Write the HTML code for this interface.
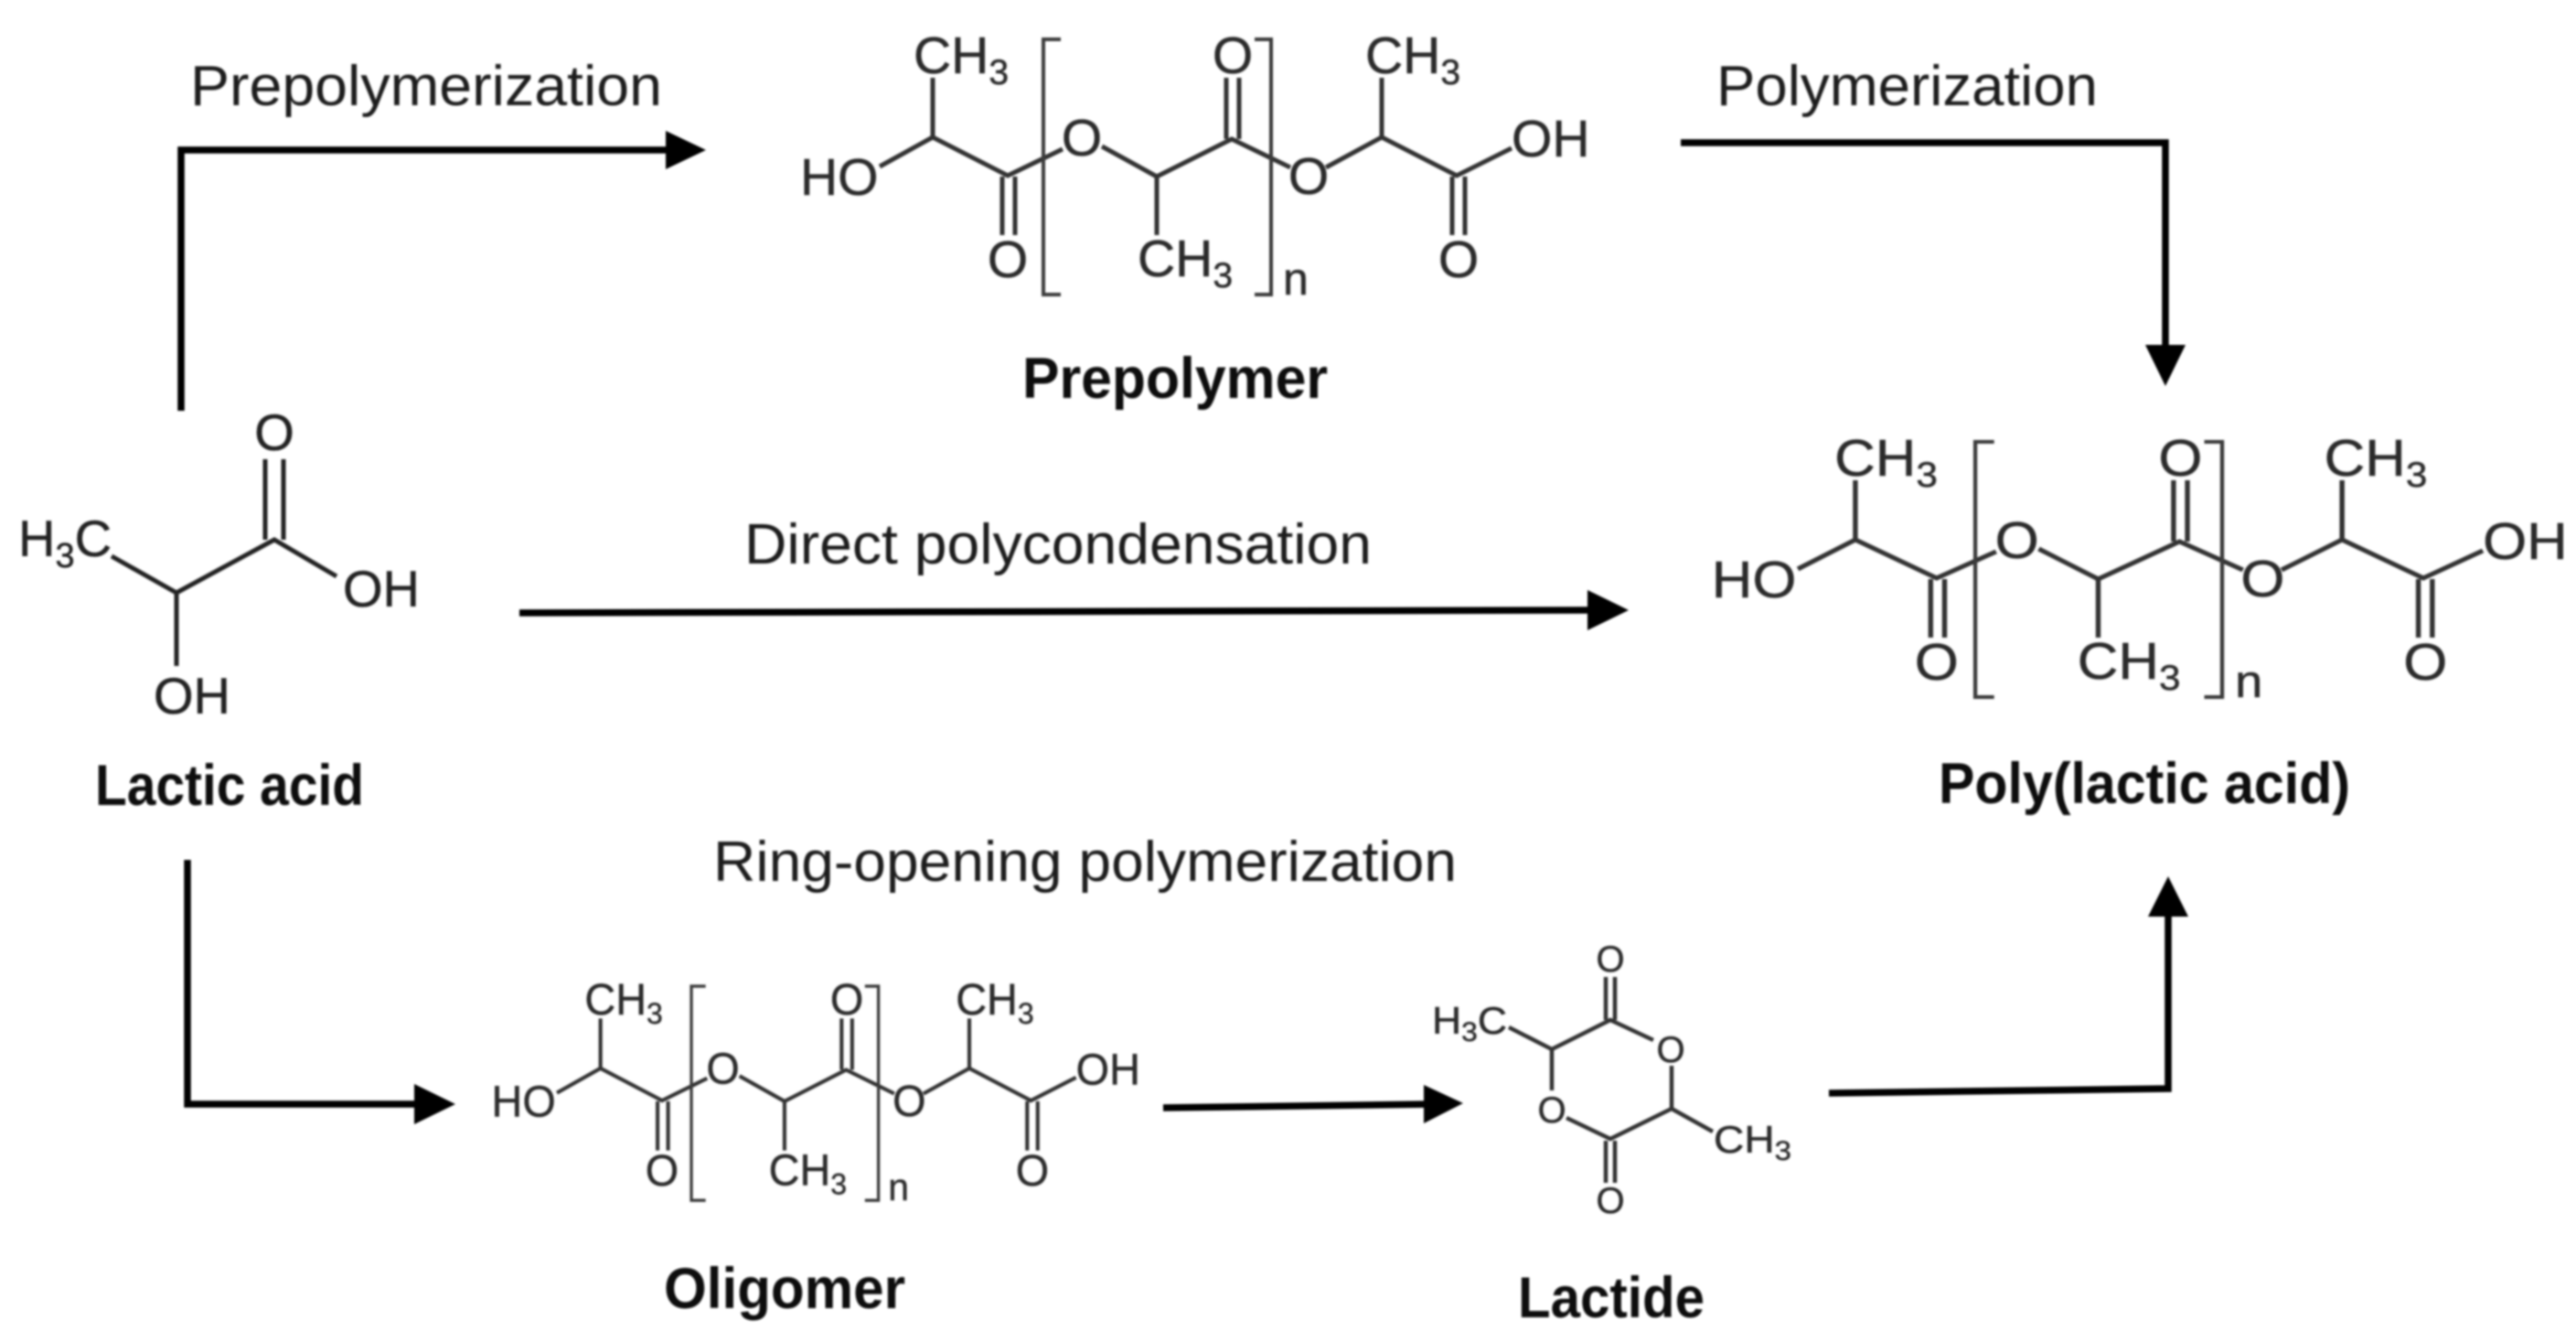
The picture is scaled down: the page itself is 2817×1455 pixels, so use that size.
<!DOCTYPE html>
<html><head><meta charset="utf-8"><style>
html,body{margin:0;padding:0;background:#fff;width:2817px;height:1455px;overflow:hidden}
svg{display:block}
.b{fill:none;stroke:#333;stroke-width:5;stroke-linecap:butt;stroke-linejoin:miter}
.br{fill:none;stroke:#3a3a3a;stroke-width:4}
.t{font-family:"Liberation Sans",sans-serif;font-size:57px;fill:#2a2a2a;stroke:#2a2a2a;stroke-width:.5px}
.lab{font-family:"Liberation Sans",sans-serif;font-size:62px;fill:#1c1c1c}
.bold{font-family:"Liberation Sans",sans-serif;font-size:63px;font-weight:700;fill:#111}
.a{fill:none;stroke:#000;stroke-width:7.5;stroke-linejoin:miter}
.m{text-anchor:middle}
</style></head><body>
<svg width="2817" height="1455" viewBox="0 0 2817 1455" xmlns="http://www.w3.org/2000/svg">
<defs>
<filter id="s" x="-2%" y="-2%" width="104%" height="104%"><feGaussianBlur stdDeviation="1.1"/></filter>
<g id="bonds">
<path class="b" d="M1020 85V150M962 182L1020 150L1102 192L1162 163M1096 193V257M1110 193V257M1205 160L1265 193V257M1265 193L1347 152L1411 183M1341 85V152M1355 85V152M1450 183L1511 150V85M1511 150L1593 192L1653 162M1588 193V257M1602 193V257"/>
<path class="br" d="M1160 43H1141V322H1160M1372 43H1390V322H1372"/>
</g>
</defs>
<g filter="url(#s)">
<!-- arrows -->
<path class="a" d="M198 449V164H735"/><polygon points="772,164 728,143 728,185" fill="#000"/>
<path class="a" d="M1838 156H2368V385"/><polygon points="2368,422 2346,377 2390,377" fill="#000"/>
<path class="a" d="M568 670L1740 667"/><polygon points="1781,667 1736,645 1736,689" fill="#000"/>
<path class="a" d="M205 940V1207H460"/><polygon points="498,1207 453,1185 453,1229" fill="#000"/>
<path class="a" d="M1272 1211L1565 1207"/><polygon points="1600,1206 1557,1186 1557,1228" fill="#000"/>
<path class="a" d="M2000 1195L2371 1190V995"/><polygon points="2371,958 2349,1002 2393,1002" fill="#000"/>

<!-- process labels -->
<text class="lab" x="208" y="115" textLength="516" lengthAdjust="spacingAndGlyphs">Prepolymerization</text>
<text class="lab" x="1877" y="115" textLength="417" lengthAdjust="spacingAndGlyphs">Polymerization</text>
<text class="lab" x="814" y="616" textLength="686" lengthAdjust="spacingAndGlyphs">Direct polycondensation</text>
<text class="lab" x="780" y="963" textLength="813" lengthAdjust="spacingAndGlyphs">Ring-opening polymerization</text>

<!-- compound labels -->
<text class="bold" x="1118" y="435" textLength="334" lengthAdjust="spacingAndGlyphs">Prepolymer</text>
<text class="bold" x="104" y="880" textLength="294" lengthAdjust="spacingAndGlyphs">Lactic acid</text>
<text class="bold" x="2120" y="878" textLength="450" lengthAdjust="spacingAndGlyphs">Poly(lactic acid)</text>
<text class="bold" x="726" y="1430" textLength="264" lengthAdjust="spacingAndGlyphs">Oligomer</text>
<text class="bold" x="1660" y="1440" textLength="204" lengthAdjust="spacingAndGlyphs">Lactide</text>

<!-- Prepolymer -->
<g>
<use href="#bonds"/>
<g class="t">
<text x="999" y="80">CH<tspan dy="12" font-size="39">3</tspan></text>
<text x="875" y="213">HO</text>
<text class="m" x="1102" y="303">O</text>
<text class="m" x="1183" y="170">O</text>
<text x="1244" y="302">CH<tspan dy="12" font-size="39">3</tspan></text>
<text class="m" x="1348" y="80">O</text>
<text class="m" x="1431" y="212">O</text>
<text x="1493" y="80">CH<tspan dy="12" font-size="39">3</tspan></text>
<text x="1653" y="171">OH</text>
<text class="m" x="1595" y="303">O</text>
<text x="1403" y="322" font-size="50">n</text>
</g>
</g>

<!-- Poly(lactic acid) -->
<g transform="translate(1875,440) scale(1.084,1) translate(-878,0)">
<use href="#bonds"/>
<g class="t">
<text x="999" y="80">CH<tspan dy="12" font-size="39">3</tspan></text>
<text x="875" y="213">HO</text>
<text class="m" x="1102" y="303">O</text>
<text class="m" x="1183" y="170">O</text>
<text x="1244" y="302">CH<tspan dy="12" font-size="39">3</tspan></text>
<text class="m" x="1348" y="80">O</text>
<text class="m" x="1431" y="212">O</text>
<text x="1493" y="80">CH<tspan dy="12" font-size="39">3</tspan></text>
<text x="1653" y="171">OH</text>
<text class="m" x="1595" y="303">O</text>
<text x="1403" y="322" font-size="50">n</text>
</g>
</g>

<!-- Oligomer -->
<g transform="translate(540,1042) scale(.8215,.839) translate(-878,0)">
<use href="#bonds"/>
<g class="t">
<text x="999" y="80">CH<tspan dy="12" font-size="39">3</tspan></text>
<text x="875" y="213">HO</text>
<text class="m" x="1102" y="303">O</text>
<text class="m" x="1183" y="170">O</text>
<text x="1244" y="302">CH<tspan dy="12" font-size="39">3</tspan></text>
<text class="m" x="1348" y="80">O</text>
<text class="m" x="1431" y="212">O</text>
<text x="1493" y="80">CH<tspan dy="12" font-size="39">3</tspan></text>
<text x="1653" y="171">OH</text>
<text class="m" x="1595" y="303">O</text>
<text x="1403" y="322" font-size="50">n</text>
</g>
</g>

<!-- Lactic acid -->
<path class="b" style="stroke:#222;stroke-width:5" d="M122 608L193 648L300 590L368 630M193 648V728M290 502V590M310 502V590"/>
<g class="t" style="fill:#222;stroke:#222;font-size:56px">
<text class="m" x="300" y="492">O</text>
<text x="20" y="608">H<tspan dy="12" font-size="38">3</tspan><tspan dy="-12">C</tspan></text>
<text x="375" y="663">OH</text>
<text x="168" y="780">OH</text>
</g>

<!-- Lactide -->
<path class="b" style="stroke-width:4.5" d="M1756 1068V1115M1766 1068V1115M1808 1137L1761 1115L1697 1147L1650 1123M1697 1147V1192M1713 1222L1761 1245L1828 1212V1165M1828 1212L1873 1237M1756 1247V1293M1766 1247V1293"/>
<g class="t" style="font-size:40px">
<text class="m" x="1761" y="1062">O</text>
<text class="m" x="1697" y="1227">O</text>
<text class="m" x="1827" y="1161">O</text>
<text class="m" x="1761" y="1326">O</text>
<text x="1566" y="1130" style="font-size:42px" textLength="82" lengthAdjust="spacingAndGlyphs">H<tspan dy="8" font-size="30">3</tspan><tspan dy="-8">C</tspan></text>
<text x="1874" y="1260" style="font-size:42px" textLength="85" lengthAdjust="spacingAndGlyphs">CH<tspan dy="8" font-size="30">3</tspan></text>
</g>
</g>
</svg>
</body></html>
